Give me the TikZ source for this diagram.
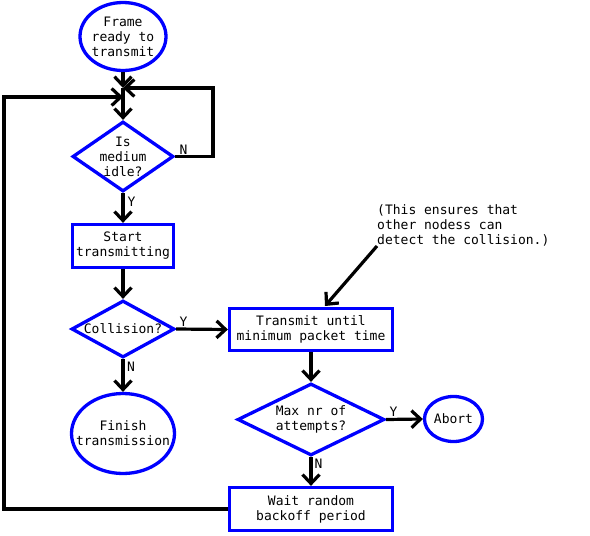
\documentclass[tikz,border=0pt]{standalone}
\usepackage{fontspec}
\setmonofont{DejaVu Sans Mono}
\usetikzlibrary{shapes.geometric,arrows.meta}
\begin{document}
\begin{tikzpicture}[x=1pt,y=-1pt,
  every node/.style={font=\ttfamily\fontsize{13}{15}\selectfont, inner sep=0pt},
  blueline/.style={draw=blue, line width=3.3pt},
  boxnode/.style={blueline, rectangle, align=center},
  ovalnode/.style={blueline, ellipse},
  dianode/.style={blueline, diamond},
  txt/.style={align=center},
  conn/.style={line width=3.2pt, -{Straight Barb[length=9pt,width=17pt,line width=3.2pt]}},
  lab/.style={font=\ttfamily\fontsize{13}{15}\selectfont}]
\fill[white] (0,0) rectangle (590,536);
\useasboundingbox (0,0) rectangle (590,536);
% shapes
\node[ovalnode, minimum width=86pt, minimum height=68pt] (frame) at (123,36.5) {};
\node[txt] (frameT) at (frame) {Frame\\ready to\\transmit};
\node[dianode, minimum width=101pt, minimum height=70pt] (idle) at (123,156.5) {};
\node[txt] (idleT) at (idle) {Is\\medium\\idle?};
\node[boxnode, minimum width=101pt, minimum height=43pt] (start) at (123,246) {};
\node[txt] (startT) at (start) {Start\\transmitting};
\node[dianode, minimum width=103pt, minimum height=57pt] (coll) at (123,329) {};
\node[txt] (collT) at (coll) {Collision?};
\node[ovalnode, minimum width=103pt, minimum height=80pt] (finish) at (123,433.5) {};
\node[txt] (finishT) at (finish) {Finish\\transmission};
\node[boxnode, minimum width=163pt, minimum height=42pt] (trans) at (311,329.5) {};
\node[txt] (transT) at (trans) {Transmit until\\minimum packet time};
\node[dianode, minimum width=147pt, minimum height=72pt] (maxnr) at (311,419.5) {};
\node[txt] (maxnrT) at (maxnr) {Max nr of\\attempts?};
\node[ovalnode, minimum width=58pt, minimum height=45pt] (abort) at (453.5,419) {};
\node[txt] (abortT) at (abort) {Abort};
\node[boxnode, minimum width=163pt, minimum height=43pt] (wait) at (311,509) {};
\node[txt] (waitT) at (wait) {Wait random\\backoff period};
\node[align=left, anchor=south west] (note) at (377,246) {(This ensures that\\other nodess can\\detect the collision.)};
% junctions
\coordinate (j1) at (123,88);
\coordinate (j2) at (123,97);
\coordinate (nloop) at (213,88);
\coordinate (leftpt) at (4,97);
\coordinate (notetip) at (325,306);
% connectors
\draw[conn] (frame.south) -- (j1);
\draw[conn] (idle.east) -| (nloop) -- (j1);
\draw[conn] (wait.west) -| (leftpt) -- (j2);
\draw[conn] (j1) -- (idle.north);
\draw[conn] (idle.south) -- (start.north);
\draw[conn] (start.south) -- (coll.north);
\draw[conn] (coll.south) -- (finish.north);
\draw[conn] (coll.east) -- (trans.west);
\draw[conn] (trans.south) -- (maxnr.north);
\draw[conn] (maxnr.east) -- (abort.west);
\draw[conn] (maxnr.south) -- (wait.north);
\draw[conn] (note.south west) -- (notetip);
% labels
\node[lab] (lN1) at (183.5,149.5) {N};
\node[lab] (lY1) at (131.5,202) {Y};
\node[lab] (lY2) at (183.5,322) {Y};
\node[lab] (lN2) at (131,367) {N};
\node[lab] (lY3) at (393.5,411.5) {Y};
\node[lab] (lN3) at (318.5,464) {N};
\end{tikzpicture}
\end{document}
